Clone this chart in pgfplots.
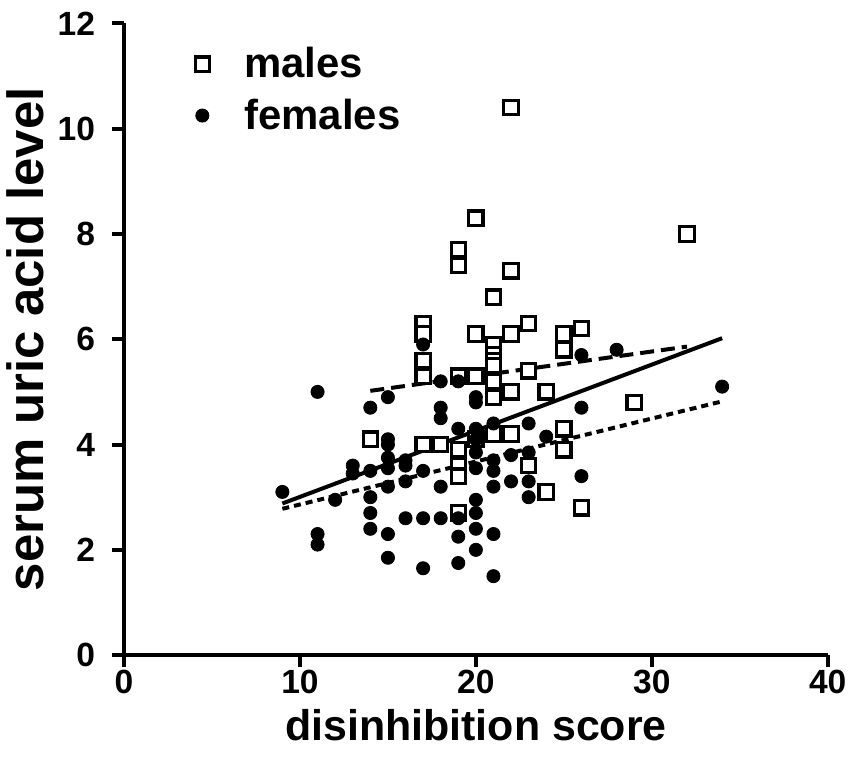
\documentclass[border=0pt]{standalone}
\usepackage{pgfplots}
\pgfplotsset{compat=1.18}
\usepackage{fontspec}
\setmainfont{Liberation Sans}

% males: open squares
\pgfplotstableread{
x y
22 10.4
20 8.3
19 7.7
19 7.4
22 7.3
32 8.0
21 6.8
17 6.3
17 6.1
20 6.1
22 6.1
23 6.3
25 6.1
26 6.2
21 5.9
21 5.7
21 5.6
21 5.5
17 5.6
17 5.3
19 5.3
20 5.3
23 5.4
25 5.8
21 5.2
22 5.0
24 5.0
21 4.9
29 4.8
14 4.1
17 4.0
18 4.0
19 3.9
20 4.1
21 4.2
22 4.2
25 4.3
25 3.9
23 3.6
24 3.1
26 2.8
19 3.6
19 3.4
19 2.7
}\males

% females: filled dots
\pgfplotstableread{
x y
9 3.1
11 5.0
11 2.3
11 2.1
12 2.95
13 3.6
13 3.45
14 4.7
14 3.5
14 3.0
14 2.7
14 2.4
15 4.9
15 4.1
15 4.0
15 3.75
15 3.55
15 3.2
15 2.3
15 1.85
16 3.7
16 3.6
16 3.3
16 2.6
17 5.9
17 3.5
17 2.6
17 1.65
18 5.2
18 4.7
18 4.5
18 3.2
18 2.6
19 5.2
19 4.3
19 2.6
19 2.25
19 1.75
20 4.9
20 4.8
20 4.3
20 4.1
20 3.85
20 3.55
20 2.95
20 2.7
20 2.4
20 2.0
21 4.4
21 3.7
21 3.5
21 3.2
21 2.3
21 1.5
22 3.8
22 3.3
23 4.4
23 3.85
23 3.3
23 3.0
24 4.15
26 5.7
26 4.7
26 3.4
28 5.8
34 5.1
}\females

\begin{document}
\begin{tikzpicture}
\begin{axis}[
    scale only axis,
    width=352.5pt, height=316.5pt,
    xmin=0, xmax=40, ymin=0, ymax=12,
    xtick={0,10,20,30,40},
    ytick={0,2,4,6,8,10,12},
    axis x line*=bottom, axis y line*=left,
    axis line style={line width=2pt, -},
    tick style={line width=2pt, black},
    tick align=outside,
    major tick length=6pt,
    /pgf/number format/assume math mode=true,
    tick label style={font=\fontsize{16.8}{18}\selectfont\bfseries},
    yticklabel style={xshift=-5pt},
    xticklabel style={yshift=2pt},
    xlabel style={font=\fontsize{21.5}{24}\selectfont\bfseries, inner ysep=9.5pt, yshift=5.5pt},
    ylabel style={font=\fontsize{25.5}{28}\selectfont\bfseries, yshift=0pt},
    xlabel={disinhibition score},
    ylabel={serum uric acid level},
    legend style={draw=none, fill=none, at={(rel axis cs:0.088,0.975)}, anchor=north west,
        font=\fontsize{21}{26}\selectfont\bfseries, row sep=5pt},
    legend cell align=left,
    legend image code/.code={\path[draw=none] (-5pt,0pt) -- (19pt,0pt); \draw[#1] plot coordinates {(0pt,0pt)};},
    clip=false,
]
\addplot[only marks, mark=square*, mark size=3.6pt,
    mark options={fill=white, draw=black, line width=1.6pt}]
    table {\males};
\addlegendentry{males}
\addplot[only marks, mark=*, mark size=3.3pt,
    mark options={fill=black, draw=black}]
    table {\females};
\addlegendentry{females}
% regression lines
\addplot[forget plot, line width=2pt, black] coordinates {(9,2.88) (34,6.02)};
\addplot[forget plot, line width=2pt, black, dash pattern=on 3.5pt off 2.5pt] coordinates {(9,2.78) (34,4.82)};
\addplot[forget plot, line width=2pt, black, dash pattern=on 7pt off 3.5pt] coordinates {(14,5.02) (32,5.86)};
\end{axis}
% a little white space above the top tick label
\path ([yshift=2.5pt]current axis.outer north);
\end{tikzpicture}
\end{document}
